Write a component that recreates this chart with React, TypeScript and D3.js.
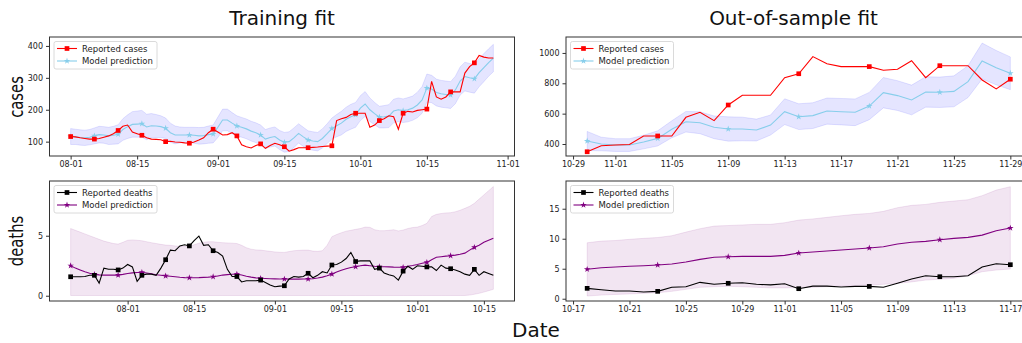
import React, { useEffect, useRef } from 'react';
import * as d3 from 'd3';

// first day of each series (one point per day)
const trainCasesStart = '2020-08-01';
const testCasesStart = '2020-10-30';
const trainDeathsStart = '2020-07-20';
const testDeathsStart = '2020-10-18';

// Training fit - cases
const trainCasesReported = [
  116, 115, 112, 110, 108, 108, 110, 114, 118, 125,
  135, 148, 152, 130, 125, 120, 112, 108, 107, 106,
  100, 101, 99, 98, 96, 95, 99, 105, 112, 128,
  139, 130, 121, 122, 128, 118, 90, 84, 80, 88,
  93, 79, 88, 95, 90, 84, 70, 75, 81, 81,
  81, 82, 83, 85, 86, 87, 166, 172, 176, 185,
  189, 189, 189, 145, 152, 166, 172, 181, 178, 139,
  189, 195, 193, 198, 200, 202, 289, 240, 233, 240,
  256, 256, 256, 315, 335, 347, 370, 365, 362, 362,
];
const trainCasesModel = [
  116, 115, 113, 112, 114, 118, 122, 121, 118, 120,
  123, 138, 147, 154, 155, 156, 146, 150, 149, 147,
  142, 128, 121, 121, 121, 121, 120, 118, 119, 122,
  124, 145, 168, 168, 158, 149, 145, 140, 133, 128,
  121, 108, 113, 116, 105, 98, 100, 112, 126, 115,
  105, 102, 100, 110, 125, 141, 150, 158, 170, 178,
  184, 205, 218, 200, 188, 177, 178, 180, 196, 200,
  197, 200, 205, 215, 231, 268, 265, 254, 250, 248,
  246, 262, 290, 304, 300, 297, 316, 332, 348, 362,
];
const trainCasesSpread = [
  25, 24, 24, 24, 24, 25, 26, 26, 27, 28,
  30, 34, 37, 40, 41, 42, 40, 38, 36, 34,
  32, 30, 28, 25, 24, 24, 25, 26, 26, 27,
  28, 32, 34, 34, 33, 32, 31, 31, 31, 31,
  31, 30, 30, 30, 30, 31, 31, 31, 30, 30,
  29, 29, 29, 30, 31, 33, 35, 37, 38, 39,
  39, 39, 39, 37, 35, 34, 35, 36, 37, 37,
  37, 38, 38, 40, 42, 44, 43, 42, 42, 42,
  42, 43, 44, 45, 45, 45, 44, 44, 43, 43,
];

// Out-of-sample fit - cases
const testCasesReported = [
  349, 389, 393, 397, 453, 453, 453, 576, 609, 554,
  657, 721, 721, 721, 837, 863, 976, 929, 910, 910,
  910, 886, 892, 949, 837, 916, 916, 916, 822, 763, 827,
];
const testCasesModel = [
  420, 400, 393, 393, 413, 437, 497, 547, 540, 510,
  499, 499, 492, 525, 613, 580, 587, 617, 613, 609,
  650, 738, 719, 690, 743, 741, 747, 811, 947, 903, 866,
];
const testCasesSpread = [
  63, 45, 42, 42, 45, 50, 56, 68, 72, 75,
  80, 78, 72, 66, 85, 85, 85, 86, 87, 88,
  90, 100, 98, 98, 100, 100, 102, 105, 118, 113, 108,
];

// Training fit - deaths
const trainDeathsReported = [
  1.58, 1.58, 1.58, 1.6, 1.7, 1.7, 1.05, 2.3, 2.2, 2.2,
  2.15, 2.3, 2.6, 2.4, 1.2, 1.7, 1.8, 1.8, 1.7, 2.3,
  3.0, 3.8, 3.75, 4.15, 4.25, 4.15, 4.6, 4.97, 4.2, 4.25,
  3.75, 3.6, 3.3, 2.2, 1.6, 1.6, 1.15, 1.25, 1.25, 1.25,
  1.3, 1.1, 0.9, 0.75, 0.8, 0.83, 1.4, 1.6, 1.55, 1.6,
  1.87, 1.5, 1.7, 2.0, 1.9, 2.56, 2.6, 2.8, 3.1, 3.6,
  2.85, 2.9, 2.9, 2.9, 2.2, 2.3, 1.9, 1.75, 1.65, 1.3,
  2.05, 2.45, 2.2, 2.5, 2.45, 2.4, 2.4, 2.1, 2.55, 2.3,
  2.25, 2.15, 2.0, 1.8, 1.7, 2.2, 1.7, 2.0, 1.85, 1.7,
];
const trainDeathsModel = [
  2.5, 2.3, 2.15, 2.0, 1.88, 1.78, 1.74, 1.72, 1.72, 1.72,
  1.72, 1.78, 1.85, 1.9, 1.93, 1.95, 1.9, 1.83, 1.75, 1.7,
  1.65, 1.62, 1.58, 1.54, 1.51, 1.5, 1.5, 1.51, 1.53, 1.55,
  1.58, 1.65, 1.72, 1.76, 1.79, 1.8, 1.72, 1.62, 1.55, 1.49,
  1.45, 1.43, 1.41, 1.4, 1.39, 1.39, 1.38, 1.38, 1.38, 1.39,
  1.39, 1.42, 1.48, 1.55, 1.67, 1.8, 1.98, 2.12, 2.25, 2.35,
  2.42, 2.5, 2.55, 2.5, 2.45, 2.42, 2.42, 2.4, 2.38, 2.37,
  2.37, 2.45, 2.52, 2.6, 2.7, 2.78, 3.0, 3.2, 3.25, 3.3,
  3.33, 3.38, 3.45, 3.55, 3.8, 4.03, 4.2, 4.45, 4.62, 4.78,
];
const trainDeathsUpper = [
  5.6, 5.45, 5.3, 5.15, 5.0, 4.85, 4.7, 4.55, 4.45, 4.35,
  4.3, 4.45, 4.62, 4.65, 4.62, 4.58, 4.5, 4.42, 4.35, 4.28,
  4.22, 4.2, 4.15, 4.12, 4.1, 4.1, 4.25, 4.38, 4.45, 4.5,
  4.5, 4.45, 4.42, 4.4, 4.38, 4.35, 4.2, 4.0, 3.88, 3.82,
  3.8, 3.75, 3.7, 3.65, 3.62, 3.61, 3.68, 3.75, 3.78, 3.8,
  3.8, 3.72, 3.7, 3.75, 4.2, 4.92, 5.1, 5.25, 5.38, 5.45,
  5.53, 5.6, 5.72, 5.7, 5.5, 5.42, 5.42, 5.45, 5.5, 5.4,
  5.47, 5.6, 5.68, 5.72, 5.85, 6.03, 6.6, 6.78, 6.85, 6.9,
  6.92, 7.0, 7.12, 7.28, 7.45, 7.7, 8.05, 8.4, 8.75, 9.1,
];
const trainDeathsLower = [
  0.02, 0.02, 0.02, 0.02, 0.02, 0.02, 0.02, 0.02, 0.02, 0.02,
  0.02, 0.02, 0.02, 0.02, 0.02, 0.02, 0.02, 0.02, 0.02, 0.02,
  0.02, 0.02, 0.02, 0.02, 0.02, 0.02, 0.02, 0.02, 0.02, 0.02,
  0.02, 0.02, 0.02, 0.02, 0.02, 0.02, 0.02, 0.02, 0.02, 0.02,
  0.02, 0.02, 0.02, 0.02, 0.02, 0.02, 0.02, 0.02, 0.02, 0.02,
  0.02, 0.02, 0.02, 0.02, 0.02, 0.02, 0.02, 0.02, 0.02, 0.02,
  0.02, 0.02, 0.02, 0.02, 0.02, 0.02, 0.02, 0.02, 0.02, 0.02,
  0.02, 0.02, 0.02, 0.02, 0.02, 0.02, 0.02, 0.02, 0.02, 0.02,
  0.02, 0.02, 0.02, 0.02, 0.05, 0.12, 0.2, 0.3, 0.42, 0.53,
];

// Out-of-sample fit - deaths
const testDeathsReported = [
  1.73, 1.5, 1.28, 1.28, 1.12, 1.23, 1.9, 2.0, 2.73, 2.4,
  2.57, 2.67, 2.4, 2.3, 2.5, 1.67, 2.1, 2.1, 1.95, 2.05,
  2.05, 1.9, 2.57, 3.28, 3.83, 3.67, 3.67, 3.83, 5.28, 5.83, 5.67,
];
const testDeathsModel = [
  4.9, 5.17, 5.28, 5.4, 5.5, 5.62, 5.78, 6.12, 6.56, 6.9,
  7.0, 7.05, 7.05, 7.05, 7.23, 7.61, 7.78, 7.95, 8.12, 8.28,
  8.45, 8.67, 9.12, 9.4, 9.56, 9.83, 10.06, 10.23, 10.6, 11.33, 11.78,
];
const testDeathsUpper = [
  9.33, 9.6, 9.7, 9.9, 10.06, 10.2, 10.5, 11.1, 11.67, 12.1,
  12.2, 12.3, 12.4, 12.4, 12.67, 13.1, 13.3, 13.56, 13.83, 14.06,
  14.22, 14.56, 15.17, 15.56, 15.72, 16.06, 16.28, 16.5, 17.17, 18.1, 18.67,
];
const testDeathsLower = [
  0.45, 0.6, 0.72, 0.8, 0.9, 1.0, 1.23, 1.56, 1.9, 2.0,
  2.06, 2.0, 1.9, 1.8, 1.8, 1.85, 1.9, 2.0, 2.1, 2.2,
  2.28, 2.4, 2.57, 2.8, 3.1, 3.25, 3.4, 3.83, 4.5, 4.78, 4.95,
];

// tick labels
const trainCasesTicks = ['2020-08-01', '2020-08-15', '2020-09-01', '2020-09-15', '2020-10-01', '2020-10-15', '2020-11-01'];
const testCasesTicks = ['2020-10-29', '2020-11-01', '2020-11-05', '2020-11-09', '2020-11-13', '2020-11-17', '2020-11-21', '2020-11-25', '2020-11-29'];
const trainDeathsTicks = ['2020-08-01', '2020-08-15', '2020-09-01', '2020-09-15', '2020-10-01', '2020-10-15'];
const testDeathsTicks = ['2020-10-17', '2020-10-21', '2020-10-25', '2020-10-29', '2020-11-01', '2020-11-05', '2020-11-09', '2020-11-13', '2020-11-17'];
const casesTrainYTicks = [100, 200, 300, 400];
const casesTestYTicks = [400, 600, 800, 1000];
const deathsTrainYTicks = [0, 5];
const deathsTestYTicks = [0, 5, 10, 15];

const W = 1022;
const H = 343;
const FONT = 'DejaVu Sans, sans-serif';

const parse = d3.utcParse('%Y-%m-%d');
const fmt = d3.utcFormat('%m-%d');

const squareSym = d3.symbol().type(d3.symbolSquare).size(22);
const starSym = d3.symbol().type(d3.symbolStar).size(13);

function drawPanel(svg, cfg) {
  const { box, start, reported, model, lower, upper, yDomain, yTicks, xTicks,
    repColor, modColor, bandColor, repLabel } = cfg;

  const t0 = parse(start);
  const dates = reported.map((_, i) => d3.utcDay.offset(t0, i));
  const first = +dates[0];
  const last = +dates[dates.length - 1];
  const pad = (last - first) * 0.05;

  const x = d3.scaleUtc()
    .domain([new Date(first - pad), new Date(last + pad)])
    .range([box.x0, box.x1]);
  const y = d3.scaleLinear().domain(yDomain).range([box.y1, box.y0]);

  const g = svg.append('g');

  // uncertainty band
  const area = d3.area()
    .x((d, i) => x(dates[i]))
    .y0(d => y(d[0]))
    .y1(d => y(d[1]));
  g.append('path')
    .datum(lower.map((l, i) => [l, upper[i]]))
    .attr('d', area)
    .attr('fill', bandColor)
    .attr('fill-opacity', 0.1)
    .attr('stroke', bandColor)
    .attr('stroke-opacity', 0.1)
    .attr('stroke-width', 1);

  const line = d3.line()
    .x((d, i) => x(dates[i]))
    .y(d => y(d));

  const drawSeries = (vals, color, kind) => {
    g.append('path')
      .datum(vals)
      .attr('d', line)
      .attr('fill', 'none')
      .attr('stroke', color)
      .attr('stroke-width', 1.1);
    g.selectAll(null)
      .data(vals.map((v, i) => ({ v, i })).filter(d => d.i % 5 === 0))
      .enter()
      .append('path')
      .attr('d', kind === 'square' ? squareSym : starSym)
      .attr('transform', d => `translate(${x(dates[d.i])},${y(d.v)})`)
      .attr('fill', color);
  };

  drawSeries(model, modColor, 'star');
  drawSeries(reported, repColor, 'square');

  // frame (right panels run past the page edge)
  g.append('rect')
    .attr('x', box.x0)
    .attr('y', box.y0)
    .attr('width', box.x1 - box.x0)
    .attr('height', box.y1 - box.y0)
    .attr('fill', 'none')
    .attr('stroke', '#333')
    .attr('stroke-width', 1);

  // x axis
  const xa = g.append('g')
    .attr('transform', `translate(0,${box.y1})`)
    .call(d3.axisBottom(x).tickValues(xTicks.map(parse)).tickFormat(fmt).tickSize(3.5).tickPadding(2));
  xa.select('.domain').remove();
  xa.selectAll('line').attr('stroke', '#333');
  xa.selectAll('text').attr('font-family', FONT).attr('font-size', 8).attr('fill', '#222');

  // y axis
  const ya = g.append('g')
    .attr('transform', `translate(${box.x0},0)`)
    .call(d3.axisLeft(y).tickValues(yTicks).tickFormat(d3.format('d')).tickSize(3.5).tickPadding(3));
  ya.select('.domain').remove();
  ya.selectAll('line').attr('stroke', '#333');
  ya.selectAll('text').attr('font-family', FONT).attr('font-size', 8).attr('fill', '#222');

  // legend
  const lx = box.x0 + 4.5;
  const ly = box.y0 + 4.5;
  const lg = g.append('g');
  lg.append('rect')
    .attr('x', lx)
    .attr('y', ly)
    .attr('width', 103)
    .attr('height', 27.5)
    .attr('rx', 2)
    .attr('fill', 'white')
    .attr('fill-opacity', 0.85)
    .attr('stroke', '#d0d0d0')
    .attr('stroke-width', 0.8);
  const items = [
    { label: repLabel, color: repColor, kind: 'square' },
    { label: 'Model prediction', color: modColor, kind: 'star' },
  ];
  items.forEach((it, k) => {
    const ry = ly + 7 + k * 12.5;
    lg.append('line')
      .attr('x1', lx + 3).attr('x2', lx + 23)
      .attr('y1', ry).attr('y2', ry)
      .attr('stroke', it.color)
      .attr('stroke-width', 1.1);
    lg.append('path')
      .attr('d', it.kind === 'square' ? squareSym() : starSym())
      .attr('transform', `translate(${lx + 13},${ry})`)
      .attr('fill', it.color);
    lg.append('text')
      .attr('x', lx + 28)
      .attr('y', ry + 3)
      .attr('font-family', FONT)
      .attr('font-size', 8.5)
      .attr('fill', '#222')
      .text(it.label);
  });
}

const App = () => {
  const svgRef = useRef(null);

  useEffect(() => {
    if (!svgRef.current) return;
    const svg = d3.select(svgRef.current);
    svg.selectAll('*').remove();

    const leftX = { x0: 49.5, x1: 514.5 };
    const rightX = { x0: 566, x1: 1031.5 };
    const topY = { y0: 37, y1: 156 };
    const botY = { y0: 181, y1: 301 };

    drawPanel(svg, {
      box: { ...leftX, ...topY }, start: trainCasesStart,
      reported: trainCasesReported, model: trainCasesModel,
      lower: trainCasesModel.map((m, i) => m - trainCasesSpread[i]),
      upper: trainCasesModel.map((m, i) => m + trainCasesSpread[i]),
      yDomain: [55, 428], yTicks: casesTrainYTicks, xTicks: trainCasesTicks,
      repColor: '#ff0000', modColor: '#87ceeb', bandColor: '#0000ff', repLabel: 'Reported cases',
    });
    drawPanel(svg, {
      box: { ...rightX, ...topY }, start: testCasesStart,
      reported: testCasesReported, model: testCasesModel,
      lower: testCasesModel.map((m, i) => m - testCasesSpread[i]),
      upper: testCasesModel.map((m, i) => m + testCasesSpread[i]),
      yDomain: [321, 1105], yTicks: casesTestYTicks, xTicks: testCasesTicks,
      repColor: '#ff0000', modColor: '#87ceeb', bandColor: '#0000ff', repLabel: 'Reported cases',
    });
    drawPanel(svg, {
      box: { ...leftX, ...botY }, start: trainDeathsStart,
      reported: trainDeathsReported, model: trainDeathsModel,
      lower: trainDeathsLower, upper: trainDeathsUpper,
      yDomain: [-0.44, 9.56], yTicks: deathsTrainYTicks, xTicks: trainDeathsTicks,
      repColor: '#000000', modColor: '#800080', bandColor: '#800080', repLabel: 'Reported deaths',
    });
    drawPanel(svg, {
      box: { ...rightX, ...botY }, start: testDeathsStart,
      reported: testDeathsReported, model: testDeathsModel,
      lower: testDeathsLower, upper: testDeathsUpper,
      yDomain: [-0.38, 19.62], yTicks: deathsTestYTicks, xTicks: testDeathsTicks,
      repColor: '#000000', modColor: '#800080', bandColor: '#800080', repLabel: 'Reported deaths',
    });

    // titles and axis labels
    const label = (txt, x, y, rotate = false) => {
      svg.append('text')
        .attr('transform', rotate
          ? `translate(${x},${y}) scale(1,0.74) rotate(-90)`
          : `translate(${x},${y})`)
        .attr('text-anchor', 'middle')
        .attr('font-family', FONT)
        .attr('font-size', 20)
        .attr('fill', '#111')
        .text(txt);
    };
    label('Training fit', 282, 25);
    label('Out-of-sample fit', 793.5, 25);
    label('cases', 23, 97, true);
    label('deaths', 23, 241, true);
    label('Date', 536, 337);
  }, []);

  return (
    <svg
      ref={svgRef}
      width={W}
      height={H}
      style={{ position: 'absolute', left: 0, top: 0, background: 'white' }}
    />
  );
};

export default App;
